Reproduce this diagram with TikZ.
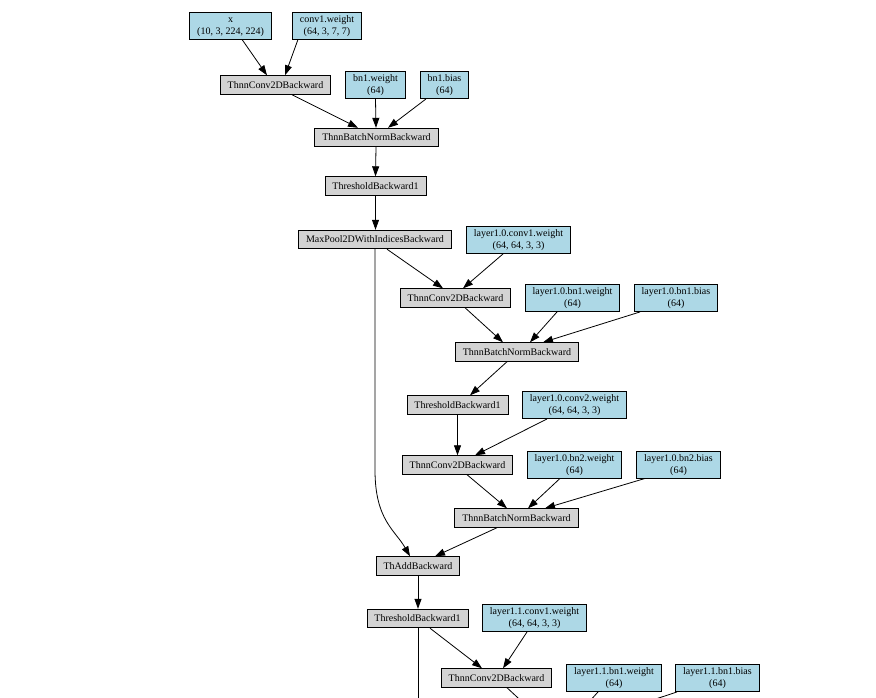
\documentclass[tikz,border=0pt]{standalone}
\usepackage{fontspec}
\setmainfont{Liberation Serif}
\usetikzlibrary{arrows.meta}
\definecolor{parblue}{HTML}{ADD8E6}
\definecolor{opgray}{HTML}{D3D3D3}
\newcommand\twoline[2]{\rule{0pt}{10pt}#1\\#2\rule[-5pt]{0pt}{5pt}}
\tikzset{
  base/.style={draw=black, line width=0.9pt, rectangle, inner xsep=7.5pt,
    font=\fontsize{10}{12}\selectfont, align=center, text=black},
  op/.style={base, fill=opgray, inner ysep=1.5pt, minimum height=18.5pt},
  par/.style={base, fill=parblue, inner ysep=0pt},
  e/.style={draw=black, line width=0.8pt, -{Triangle[length=10pt,width=7pt]}},
}
\begin{document}
\begin{tikzpicture}[x=1pt,y=-1pt]
\useasboundingbox (0,0) rectangle (876,697);
\clip (0,0) rectangle (876,697);
% nodes
\node[par] (x) at (230.5,25.5) {\twoline{x}{(10, 3, 224, 224)}};
\node[par] (conv1w) at (327,25.5) {\twoline{conv1.weight}{(64, 3, 7, 7)}};
\node[op] (c1) at (275.5,85) {ThnnConv2DBackward};
\node[par] (bn1w) at (375.5,85) {\twoline{bn1.weight}{(64)}};
\node[par] (bn1b) at (444.5,85) {\twoline{bn1.bias}{(64)}};
\node[op] (bn1) at (376.5,137.5) {ThnnBatchNormBackward};
\node[op] (r1) at (375.5,186) {ThresholdBackward1};
\node[op] (mp) at (375,239.5) {MaxPool2DWithIndicesBackward};
\node[par] (l10c1w) at (518.5,240) {\twoline{layer1.0.conv1.weight}{(64, 64, 3, 3)}};
\node[op] (c2) at (455.5,298) {ThnnConv2DBackward};
\node[par] (l10bn1w) at (572.5,298) {\twoline{layer1.0.bn1.weight}{(64)}};
\node[par] (l10bn1b) at (676,298) {\twoline{layer1.0.bn1.bias}{(64)}};
\node[op] (bn2) at (517,352) {ThnnBatchNormBackward};
\node[op] (r2) at (457.5,405) {ThresholdBackward1};
\node[par] (l10c2w) at (574.5,405) {\twoline{layer1.0.conv2.weight}{(64, 64, 3, 3)}};
\node[op] (c3) at (457.5,465) {ThnnConv2DBackward};
\node[par] (l10bn2w) at (574.5,464.5) {\twoline{layer1.0.bn2.weight}{(64)}};
\node[par] (l10bn2b) at (678.5,464.5) {\twoline{layer1.0.bn2.bias}{(64)}};
\node[op] (bn3) at (516.5,518) {ThnnBatchNormBackward};
\node[op] (add) at (418,566) {ThAddBackward};
\node[op] (r3) at (417.5,618.5) {ThresholdBackward1};
\node[par] (l11c1w) at (534.5,618) {\twoline{layer1.1.conv1.weight}{(64, 64, 3, 3)}};
\node[op] (c4) at (496.5,678) {ThnnConv2DBackward};
\node[par] (l11bn1w) at (614,678) {\twoline{layer1.1.bn1.weight}{(64)}};
\node[par] (l11bn1b) at (717.5,678) {\twoline{layer1.1.bn1.bias}{(64)}};
% free ends below the visible area
\coordinate (skipend) at (418,760);
\coordinate (bn4a) at (545,723);
\coordinate (bn4b) at (570,723);
\coordinate (bn4c) at (583,723);
\coordinate (bend) at (375,470);
% edges
\draw[e] ([xshift=11.5]x.south) -- ([xshift=-8.5]c1.north);
\draw[e] ([xshift=-29]conv1w.south) -- ([xshift=9.5]c1.north);
\draw[e] ([xshift=16.5]c1.south) -- ([xshift=-18.5]bn1.north);
\draw[e] (bn1w.south) -- ([xshift=-0.5]bn1.north);
\draw[e] ([xshift=-18.5]bn1b.south) -- ([xshift=11.5]bn1.north);
\draw[e] ([xshift=-0.5]bn1.south) -- (r1.north);
\draw[e] (r1.south) -- ([xshift=0.5]mp.north);
\draw[e] ([xshift=12]mp.south) -- ([xshift=-12.5]c2.north);
\draw[e] ([xshift=-15.5]l10c1w.south) -- ([xshift=7.5]c2.north);
\draw[e] ([xshift=9.5]c2.south) -- ([xshift=-14]bn2.north);
\draw[e] ([xshift=-15.5]l10bn1w.south) -- ([xshift=13]bn2.north);
\draw[e] ([xshift=-36]l10bn1b.south) -- ([xshift=26]bn2.north);
\draw[e] ([xshift=-10]bn2.south) -- ([xshift=12.5]r2.north);
\draw[e] (r2.south) -- (c3.north);
\draw[e] ([xshift=-27.5]l10c2w.south) -- ([xshift=17.5]c3.north);
\draw[e] ([xshift=9.5]c3.south) -- ([xshift=-9.5]bn3.north);
\draw[e] ([xshift=-14.5]l10bn2w.south) -- ([xshift=11.5]bn3.north);
\draw[e] ([xshift=-33.5]l10bn2b.south) -- ([xshift=28.5]bn3.north);
\draw[e] ([xshift=-19.5]bn3.south) -- ([xshift=17]add.north);
\draw[e] (mp.south) -- (bend) .. controls (375,520) and (395,530) .. ([xshift=-8]add.north);
\draw[e] (add.south) -- ([xshift=0.5]r3.north);
\draw[e] ([xshift=12.5]r3.south) -- ([xshift=-14.5]c4.north);
\draw[e] ([xshift=-7.5]l11c1w.south) -- ([xshift=6.5]c4.north);
\draw[e] ([xshift=0.5]r3.south) -- (skipend);
\draw[e] ([xshift=10.5]c4.south) -- (bn4a);
\draw[e] ([xshift=-16]l11bn1w.south) -- (bn4b);
\draw[e] ([xshift=-40.5]l11bn1b.south) -- (bn4c);
\end{tikzpicture}
\end{document}
